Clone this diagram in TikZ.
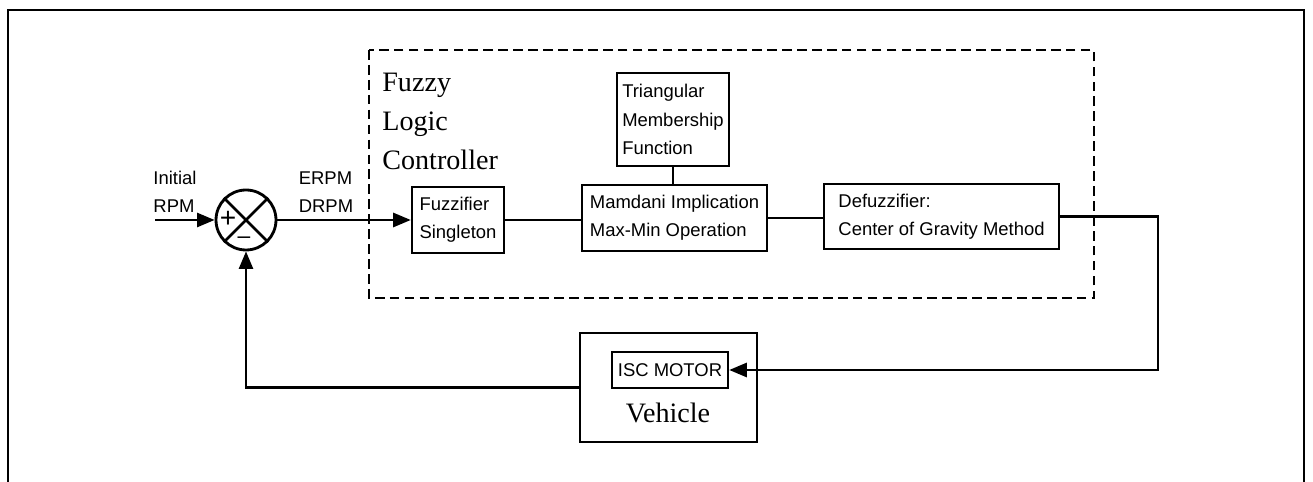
\documentclass[tikz,border=0pt]{standalone}
\usepackage{fontspec}
\setmainfont{Liberation Serif}
\setsansfont{Liberation Sans}
\usetikzlibrary{arrows.meta}

\tikzset{
  block/.style={draw, line width=1.4pt, inner sep=0pt, align=left,
    font=\sffamily\fontsize{10.5}{16}\selectfont},
  wire/.style={line width=1.4pt},
  arr/.style={line width=1.4pt, -{Triangle[length=10pt,width=8pt]}},
  lbl/.style={align=left, inner sep=0pt, font=\sffamily\fontsize{10.5}{16}\selectfont},
  big/.style={align=left, inner sep=0pt, font=\rmfamily\fontsize{16}{22}\selectfont}
}

\begin{document}
\begin{tikzpicture}[x=0.02cm,y=-0.02cm]

\useasboundingbox (0,0) rectangle (1313,482);

%outer frame (open at the bottom)
\draw[line width=1.4pt] (8,490) -- (8,10) -- (1304,10) -- (1304,490);

%controller frame
\draw[line width=1.4pt, dash pattern=on 5.5pt off 3pt] (369,50) rectangle (1094,298);
\node[big, anchor=north west] (flc) at (382,73) {Fuzzy\\Logic\\Controller};

%summing junction
\node[draw, circle, line width=1.6pt, minimum size=1.2cm, inner sep=0pt] (sum) at (246,220) {};
\draw[line width=1.6pt] (sum.north west) -- (sum.south east);
\draw[line width=1.6pt] (sum.north east) -- (sum.south west);
\node[font=\sffamily\fontsize{16}{16}\selectfont, inner sep=0pt] (plus) at (228,219) {+};
\node[font=\sffamily\fontsize{13}{13}\selectfont, inner sep=0pt] (minus) at (244,240) {--};

%labels on the input side
\node[lbl] (init) at (175,192) {Initial\\RPM};
\node[lbl] (err) at (326,192) {ERPM\\DRPM};

%blocks
\node[block, minimum width=1.84cm, minimum height=1.32cm] (fuzz) at (458,220) {Fuzzifier\\Singleton};
\node[block, minimum width=3.7cm, minimum height=1.32cm] (mamd) at (674.5,218) {Mamdani Implication\\Max-Min Operation};
\node[block, minimum width=2.24cm, minimum height=1.86cm] (tri) at (673,119.5) {Triangular\\Membership\\Function};
\node[block, minimum width=4.7cm, minimum height=1.3cm] (defuzz) at (941.5,216.5) {Defuzzifier:\\Center of Gravity Method};

%plant
\node[draw, line width=1.4pt, minimum width=3.54cm, minimum height=2.18cm] (veh) at (668.5,387.5) {};
\node[block, minimum width=2.32cm, minimum height=0.72cm] (isc) at (670,370) {ISC MOTOR};
\node[big, inner sep=0pt] (vname) at (668,413) {Vehicle};

%connections
\coordinate (in) at (155,220);
\coordinate (ret) at (1158,0);
\draw[arr] (in) -- (sum.west);
\draw[arr] (sum.east) -- (fuzz.west);
\draw[wire] (fuzz.east) -- (mamd.west |- fuzz.east);
\draw[wire] (tri.south) -- (mamd.north -| tri.south);
\draw[wire] (mamd.east) -- (defuzz.west |- mamd.east);
\draw[arr] (defuzz.east) -- (defuzz.east -| ret) |- (isc.east);
\draw[arr] (veh.west) -| (sum.south);

\end{tikzpicture}
\end{document}
